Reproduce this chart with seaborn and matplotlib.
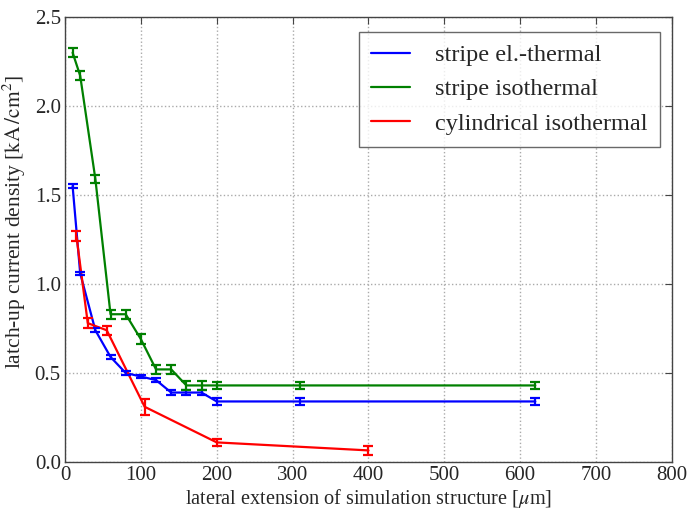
import numpy as np
import pandas as pd
import matplotlib
matplotlib.use("Agg")
import matplotlib.pyplot as plt
import seaborn as sns

# ---- data ----
series_names = ["stripe el.-thermal", "stripe isothermal", "cylindrical isothermal"]

blue_x = [10, 20, 40, 60, 80, 100, 120, 140, 160, 180, 200, 310, 620]
blue_y = [1.55, 1.06, 0.74, 0.59, 0.50, 0.48, 0.46, 0.39, 0.39, 0.39, 0.34, 0.34, 0.34]
blue_err = [0.01, 0.008, 0.01, 0.012, 0.01, 0.01, 0.012, 0.012, 0.012, 0.012, 0.02, 0.02, 0.02]

green_x = [10, 20, 40, 60, 80, 100, 120, 140, 160, 180, 200, 310, 620]
green_y = [2.30, 2.17, 1.59, 0.83, 0.83, 0.69, 0.52, 0.52, 0.43, 0.43, 0.43, 0.43, 0.43]
green_err = [0.025, 0.025, 0.025, 0.025, 0.025, 0.03, 0.025, 0.025, 0.025, 0.025, 0.02, 0.02, 0.02]

red_x = [15, 30, 55, 105, 200, 400]
red_y = [1.27, 0.78, 0.74, 0.31, 0.11, 0.065]
red_err = [0.03, 0.03, 0.025, 0.045, 0.02, 0.025]

colors = ["#0000ff", "#008000", "#ff0000"]

x_ticks = [0, 100, 200, 300, 400, 500, 600, 700, 800]
y_ticks = [0.0, 0.5, 1.0, 1.5, 2.0, 2.5]

df = pd.concat([
    pd.DataFrame({"x": blue_x, "y": blue_y, "err": blue_err, "series": series_names[0]}),
    pd.DataFrame({"x": green_x, "y": green_y, "err": green_err, "series": series_names[1]}),
    pd.DataFrame({"x": red_x, "y": red_y, "err": red_err, "series": series_names[2]}),
], ignore_index=True)

# ---- style ----
sns.set_style("white")
plt.rcParams["font.family"] = ["Liberation Serif", "DejaVu Serif"]
plt.rcParams["mathtext.fontset"] = "stix"

fig = plt.figure(figsize=(6.88, 5.08), dpi=100)
ax = fig.add_axes([0.0945, 0.0906, 0.882, 0.876])

sns.lineplot(data=df, x="x", y="y", hue="series", hue_order=series_names,
             palette=colors, linewidth=1.6, ax=ax, sort=False, estimator=None,
             errorbar=None)

for name, c in zip(series_names, colors):
    d = df[df["series"] == name]
    ax.errorbar(d["x"], d["y"], yerr=d["err"], fmt="none", ecolor=c,
                elinewidth=1.6, capsize=3.5, capthick=1.6)

ax.set_xlim(0, 800)
ax.set_ylim(0, 2.5)
ax.set_xticks(x_ticks)
ax.set_yticks(y_ticks)
ax.set_yticklabels([f"{v:.1f}" for v in y_ticks])
ax.tick_params(direction="in", top=True, right=True, labelsize=15, length=5,
               color="#444444", pad=3)
ax.grid(True, linestyle=":", color="#aaaaaa", linewidth=1)
for s in ax.spines.values():
    s.set_color("#444444")
    s.set_linewidth(1)

ax.set_xlabel(r"lateral extension of simulation structure [$\mu$m]", fontsize=14.6, labelpad=1)
ax.set_ylabel(r"latch-up current density [$\mathrm{kA\,/cm^2}$]", fontsize=15.5)
ax.yaxis.set_label_coords(-0.061, 0.54)

leg = ax.legend(loc="upper right", fontsize=17.5, frameon=True, fancybox=False,
                borderpad=0.5, handlelength=1.6, handletextpad=1.03,
                borderaxespad=0, bbox_to_anchor=(0.980, 0.966), labelspacing=0.5)
leg.get_frame().set_edgecolor("#444444")
leg.get_frame().set_linewidth(1)
for line in leg.get_lines():
    line.set_linewidth(1.6)

fig.savefig("out.png", dpi=100)
